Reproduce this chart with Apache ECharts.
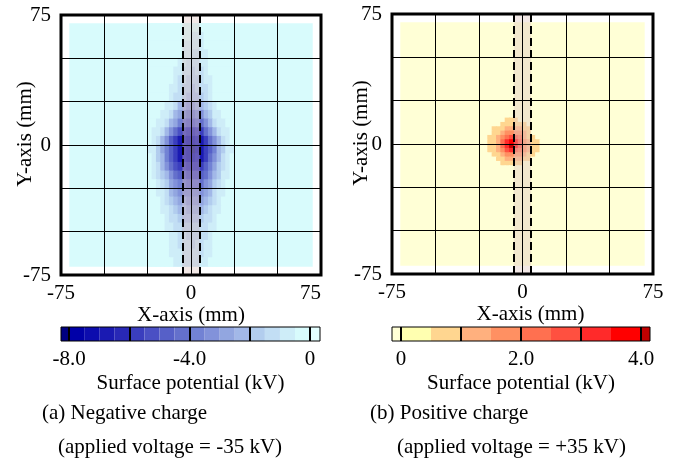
<!DOCTYPE html>
<html>
<head>
<meta charset="utf-8">
<script src="https://cdn.jsdelivr.net/npm/echarts@6/dist/echarts.min.js"></script>
<style>
  html, body { margin: 0; padding: 0; background: #fff; }
  #chart { width: 674px; height: 459px; }
</style>
</head>
<body>
<div id="chart"></div>
<script>
// ---- Measured surface potential maps (kV) on the probe grid (mm) ----

// Scanned area and the electrode strip edges (mm)
const scanRange = [-70, 70];
const electrodeEdges = [-5, 5];

// (a) negative charge: cell centres (mm) and potential (kV)
const negColsX = [-23.75, -21.25, -18.75, -16.25, -13.75, -11.25, -8.75, -6.25, -3.75, -1.25,
                  1.25, 3.75, 6.25, 8.75, 11.25, 13.75, 16.25, 18.75, 21.25, 23.75];
const negRowsY = [67.5, 62.5, 57.5, 52.5, 47.5, 42.5, 37.5, 32.5, 27.5, 22.5, 17.5, 12.5, 7.5, 2.5,
                  -2.5, -7.5, -12.5, -17.5, -22.5, -27.5, -32.5, -37.5, -42.5, -47.5, -52.5, -57.5, -62.5, -67.5];
const negBackground = -0.3;
const negPotential = [
  [-0.3,-0.3,-0.3,-0.3,-0.3,-0.3,-0.3,-0.3,-0.3,-0.3,-0.3,-0.3,-0.3,-0.3,-0.3,-0.3,-0.3,-0.3,-0.3,-0.3],
  [-0.3,-0.3,-0.3,-0.3,-0.3,-0.3,-0.3,-0.3,-0.3,-0.3,-0.6,-0.7,-0.6,-0.3,-0.3,-0.3,-0.3,-0.3,-0.3,-0.3],
  [-0.3,-0.3,-0.3,-0.3,-0.3,-0.3,-0.3,-0.3,-0.55,-0.75,-0.9,-0.9,-0.75,-0.5,-0.3,-0.3,-0.3,-0.3,-0.3,-0.3],
  [-0.3,-0.3,-0.3,-0.3,-0.3,-0.3,-0.3,-0.5,-0.75,-1.0,-1.1,-1.05,-0.85,-0.55,-0.3,-0.3,-0.3,-0.3,-0.3,-0.3],
  [-0.3,-0.3,-0.3,-0.3,-0.3,-0.3,-0.5,-0.7,-0.95,-1.2,-1.3,-1.2,-0.95,-0.65,-0.3,-0.3,-0.3,-0.3,-0.3,-0.3],
  [-0.3,-0.3,-0.3,-0.3,-0.3,-0.3,-0.6,-0.85,-1.15,-1.45,-1.55,-1.4,-1.1,-0.8,-0.5,-0.3,-0.3,-0.3,-0.3,-0.3],
  [-0.3,-0.3,-0.3,-0.3,-0.3,-0.5,-0.75,-1.05,-1.4,-1.7,-1.8,-1.65,-1.3,-0.95,-0.6,-0.3,-0.3,-0.3,-0.3,-0.3],
  [-0.3,-0.3,-0.3,-0.3,-0.3,-0.6,-0.9,-1.25,-1.65,-2.0,-2.1,-1.9,-1.5,-1.1,-0.7,-0.3,-0.3,-0.3,-0.3,-0.3],
  [-0.3,-0.3,-0.3,-0.3,-0.3,-0.7,-1.05,-1.45,-1.95,-2.4,-2.5,-2.25,-1.8,-1.3,-0.85,-0.5,-0.3,-0.3,-0.3,-0.3],
  [-0.3,-0.3,-0.3,-0.3,-0.6,-1.0,-1.5,-2.1,-2.7,-3.2,-3.3,-3.0,-2.5,-1.9,-1.2,-0.6,-0.3,-0.3,-0.3,-0.3],
  [-0.3,-0.3,-0.3,-0.6,-0.9,-1.4,-2.1,-2.9,-3.6,-4.2,-4.3,-3.9,-3.2,-2.4,-1.6,-0.95,-0.55,-0.3,-0.3,-0.3],
  [-0.3,-0.3,-0.6,-0.9,-1.4,-2.1,-3.0,-3.9,-4.8,-5.4,-5.5,-5.0,-4.2,-3.2,-2.3,-1.5,-0.9,-0.55,-0.3,-0.3],
  [-0.3,-0.6,-0.95,-1.5,-2.3,-3.3,-4.4,-5.4,-6.3,-6.9,-7.0,-6.5,-5.6,-4.5,-3.4,-2.4,-1.5,-0.95,-0.6,-0.3],
  [-0.5,-0.9,-1.5,-2.4,-3.5,-4.6,-5.7,-6.6,-7.3,-7.8,-7.9,-7.4,-6.6,-5.6,-4.5,-3.4,-2.3,-1.45,-0.85,-0.5],
  [-0.55,-1.0,-1.7,-2.7,-3.8,-4.9,-6.0,-6.9,-7.5,-8.0,-8.2,-7.7,-6.9,-5.9,-4.8,-3.6,-2.5,-1.6,-0.95,-0.55],
  [-0.5,-0.9,-1.55,-2.5,-3.6,-4.7,-5.8,-6.7,-7.3,-7.7,-7.8,-7.4,-6.6,-5.6,-4.5,-3.4,-2.35,-1.5,-0.9,-0.5],
  [-0.3,-0.75,-1.3,-2.1,-3.1,-4.1,-5.1,-5.9,-6.5,-6.9,-7.0,-6.6,-5.9,-5.0,-4.0,-3.0,-2.0,-1.25,-0.75,-0.3],
  [-0.3,-0.6,-1.05,-1.7,-2.5,-3.4,-4.3,-5.0,-5.5,-5.8,-5.9,-5.6,-5.0,-4.2,-3.3,-2.4,-1.6,-1.0,-0.6,-0.3],
  [-0.3,-0.3,-0.8,-1.3,-2.0,-2.7,-3.4,-4.0,-4.5,-4.8,-4.9,-4.6,-4.1,-3.4,-2.7,-1.9,-1.25,-0.8,-0.3,-0.3],
  [-0.3,-0.3,-0.65,-1.0,-1.5,-2.1,-2.7,-3.2,-3.6,-3.9,-4.0,-3.7,-3.3,-2.7,-2.1,-1.5,-1.0,-0.65,-0.3,-0.3],
  [-0.3,-0.3,-0.5,-0.8,-1.2,-1.7,-2.2,-2.6,-3.0,-3.2,-3.3,-3.1,-2.7,-2.2,-1.7,-1.2,-0.8,-0.5,-0.3,-0.3],
  [-0.3,-0.3,-0.3,-0.65,-0.95,-1.35,-1.8,-2.2,-2.5,-2.7,-2.8,-2.6,-2.25,-1.85,-1.4,-0.95,-0.6,-0.3,-0.3,-0.3],
  [-0.3,-0.3,-0.3,-0.5,-0.8,-1.1,-1.45,-1.8,-2.1,-2.3,-2.35,-2.2,-1.9,-1.5,-1.15,-0.8,-0.5,-0.3,-0.3,-0.3],
  [-0.3,-0.3,-0.3,-0.3,-0.6,-0.85,-1.1,-1.4,-1.7,-1.9,-1.95,-1.8,-1.5,-1.2,-0.9,-0.6,-0.3,-0.3,-0.3,-0.3],
  [-0.3,-0.3,-0.3,-0.3,-0.3,-0.75,-1.0,-1.25,-1.5,-1.7,-1.75,-1.6,-1.35,-1.05,-0.8,-0.5,-0.3,-0.3,-0.3,-0.3],
  [-0.3,-0.3,-0.3,-0.3,-0.3,-0.65,-0.9,-1.1,-1.35,-1.5,-1.55,-1.45,-1.2,-0.95,-0.7,-0.3,-0.3,-0.3,-0.3,-0.3],
  [-0.3,-0.3,-0.3,-0.3,-0.3,-0.55,-0.8,-1.0,-1.2,-1.35,-1.4,-1.3,-1.1,-0.85,-0.6,-0.3,-0.3,-0.3,-0.3,-0.3],
  [-0.3,-0.3,-0.3,-0.3,-0.3,-0.5,-0.7,-0.9,-1.05,-1.2,-1.25,-1.15,-0.95,-0.75,-0.5,-0.3,-0.3,-0.3,-0.3,-0.3]
];

// (b) positive charge: cell centres (mm) and potential (kV)
const posColsX = [-21.25, -18.75, -16.25, -13.75, -11.25, -8.75, -6.25, -3.75, -1.25, 1.25, 3.75, 6.25, 8.75, 11.25];
const posRowsY = [13.75, 11.25, 8.75, 6.25, 3.75, 1.25, -1.25, -3.75, -6.25, -8.75, -11.25, -13.75];
const posBackground = -0.1;
const posPotential = [
  [-0.1,-0.1,-0.1,-0.1,-0.1,0.5,0.55,0.5,-0.1,-0.1,-0.1,-0.1,-0.1,-0.1],
  [-0.1,-0.1,-0.1,-0.1,0.55,0.7,0.8,0.75,0.6,0.5,-0.1,-0.1,-0.1,-0.1],
  [-0.1,-0.1,0.5,0.7,0.95,1.15,1.25,1.25,1.05,0.8,0.5,-0.1,-0.1,-0.1],
  [-0.1,-0.1,0.6,0.95,1.35,1.7,1.95,1.9,1.6,1.2,0.7,-0.1,-0.1,-0.1],
  [-0.1,0.5,0.75,1.25,1.8,2.4,2.85,2.75,2.1,1.45,0.95,0.55,-0.1,-0.1],
  [-0.1,0.55,0.85,1.45,2.2,3.1,3.85,3.6,2.6,1.75,1.1,0.7,0.5,-0.1],
  [-0.1,0.55,0.85,1.45,2.25,3.2,4.15,3.7,2.65,1.8,1.1,0.7,0.5,-0.1],
  [-0.1,0.5,0.75,1.2,1.8,2.5,3.0,2.9,2.2,1.5,1.0,0.65,0.5,-0.1],
  [-0.1,-0.1,0.6,0.9,1.3,1.7,1.95,1.9,1.6,1.2,0.8,0.5,-0.1,-0.1],
  [-0.1,-0.1,-0.1,0.65,0.95,1.2,1.35,1.3,1.1,0.8,0.5,-0.1,-0.1,-0.1],
  [-0.1,-0.1,-0.1,-0.1,0.55,0.7,0.8,0.75,0.6,-0.1,-0.1,-0.1,-0.1,-0.1],
  [-0.1,-0.1,-0.1,-0.1,-0.1,-0.1,-0.1,-0.1,-0.1,-0.1,-0.1,-0.1,-0.1,-0.1]
];

// Contour levels (kV) and colour-scale ticks
const negLevels = [-8, -7.5, -7, -6.5, -6, -5.5, -5, -4.5, -4, -3.5, -3, -2.5, -2, -1.5, -1, -0.5, 0];
const posLevels = [0, 0.5, 1, 1.5, 2, 2.5, 3, 3.5, 4];
const negScaleTicks = [-8, -6, -4, -2, 0];
const negScaleLabels = [-8, -4, 0];
const posScaleTicks = [0, 1, 2, 3, 4];
const posScaleLabels = [0, 2, 4];
const mapTickLabels = [-75, 0, 75];

// ---- Styles ----
const negLevelColors = ['#000080', '#0000a8', '#0c0cae', '#1a1ab2', '#2828b6', '#3a3ebe', '#4a50c4', '#5660c8',
  '#6470cc', '#7282d4', '#8292da', '#92a6e0', '#a2b8e8', '#b2cdee', '#c2def4', '#ceedf8', '#d8fbfc', '#e4ffff'];
const posLevelColors = ['#ffffd6', '#ffffb0', '#ffd690', '#ffb07e', '#ff9062', '#ff7050', '#ff5040', '#ff2a2a',
  '#ff0000', '#c00000'];
const FONT = "'Liberation Serif', 'Times New Roman', serif";
const TXT = { fontFamily: FONT, fontSize: 21, color: '#000' };

// ---- Helpers ----
function mapCells(xs, ys, grid, background) {
  const hx = Math.abs(xs[1] - xs[0]) / 2;
  const hy = Math.abs(ys[1] - ys[0]) / 2;
  const out = [[scanRange[0], scanRange[1], scanRange[0], scanRange[1], background]];
  ys.forEach((y, i) => xs.forEach((x, j) => out.push([x - hx, x + hx, y - hy, y + hy, grid[i][j]])));
  return out;
}
function piecesOf(levels, colors) {
  const p = [{ lt: levels[0], color: colors[0] }];
  for (let i = 0; i < levels.length - 1; i++) p.push({ gte: levels[i], lt: levels[i + 1], color: colors[i + 1] });
  p.push({ gte: levels[levels.length - 1], color: colors[levels.length] });
  return p;
}
function scaleBands(levels, lo, hi) {
  const edges = [lo].concat(levels, [hi]);
  return edges.slice(0, -1).map((e, i) => [e, edges[i + 1], i]);
}
function renderCell(params, api) {
  const a = api.coord([api.value(0), api.value(3)]);
  const b = api.coord([api.value(1), api.value(2)]);
  return {
    type: 'rect',
    shape: { x: a[0] - 0.4, y: a[1] - 0.4, width: b[0] - a[0] + 0.8, height: b[1] - a[1] + 0.8 },
    style: { fill: api.visual('color') }
  };
}
function bandRenderer(colors) {
  return function (params, api) {
    const a = api.coord([api.value(0), 1]);
    const b = api.coord([api.value(1), 0]);
    return {
      type: 'rect',
      shape: { x: a[0], y: a[1], width: b[0] - a[0], height: b[1] - a[1] },
      style: { fill: colors[api.value(2)] }
    };
  };
}
const mapLabel = v => (mapTickLabels.indexOf(v) >= 0 ? String(v) : '');
const scaleLabel = v => (v === 0 ? '0' : v.toFixed(1));

function mapXAxis(gi, namePad, alignMax) {
  return {
    type: 'value', gridIndex: gi, min: -75, max: 75, interval: 25, z: 10,
    axisLine: { show: false }, axisTick: { show: false },
    splitLine: { show: true, lineStyle: { color: '#000', width: 1 } },
    axisLabel: Object.assign({ formatter: mapLabel, margin: 8, alignMaxLabel: alignMax }, TXT),
    name: 'X-axis (mm)', nameLocation: 'middle', nameGap: 30, nameMoveOverlap: false,
    nameTextStyle: Object.assign({ padding: namePad }, TXT)
  };
}
function mapYAxis(gi, gap) {
  return {
    type: 'value', gridIndex: gi, min: -75, max: 75, interval: 25, z: 10,
    axisLine: { show: false }, axisTick: { show: false },
    splitLine: { show: true, lineStyle: { color: '#000', width: 1 } },
    axisLabel: Object.assign({ formatter: mapLabel, margin: 10 }, TXT),
    name: 'Y-axis (mm)', nameLocation: 'middle', nameGap: gap, nameMoveOverlap: false,
    nameTextStyle: Object.assign({ padding: [0, 0, 0, 22] }, TXT)
  };
}
function scaleXAxis(gi, lo, hi, labels) {
  return {
    type: 'value', gridIndex: gi, min: lo, max: hi,
    axisLine: { show: false }, axisTick: { show: false }, splitLine: { show: false },
    axisLabel: Object.assign({ customValues: labels, formatter: scaleLabel, margin: 8 }, TXT),
    name: 'Surface potential (kV)', nameLocation: 'middle', nameGap: 32, nameMoveOverlap: false,
    nameTextStyle: TXT
  };
}
const stripMarks = {
  markArea: {
    silent: true, z: 4,
    itemStyle: { color: 'rgba(225,200,195,0.42)' },
    data: [[{ xAxis: electrodeEdges[0] }, { xAxis: electrodeEdges[1] }]]
  },
  markLine: {
    silent: true, z: 6, symbol: ['none', 'none'], animation: false,
    label: { show: false },
    lineStyle: { color: '#000', width: 2, type: [8, 4] },
    data: electrodeEdges.map(v => ({ xAxis: v }))
  }
};
function tickMarks(ticks) {
  return {
    silent: true, z: 6, symbol: ['none', 'none'], animation: false,
    label: { show: false },
    lineStyle: { color: '#000', width: 2, type: 'solid' },
    data: ticks.map(v => ({ xAxis: v }))
  };
}
const negScale = [-8.27, 0.33];
const posScale = [-0.15, 4.15];

const chart = echarts.init(document.getElementById('chart'), null, { renderer: 'canvas' });
chart.setOption({
  animation: false,
  backgroundColor: '#fff',
  textStyle: { fontFamily: FONT },
  grid: [
    { left: 61, top: 15, width: 260, height: 260, show: true, borderColor: '#000', borderWidth: 3,
      backgroundColor: 'transparent', z: 10, outerBoundsMode: 'none' },
    { left: 392, top: 14, width: 261, height: 260, show: true, borderColor: '#000', borderWidth: 3,
      backgroundColor: 'transparent', z: 10, outerBoundsMode: 'none' },
    { left: 61, top: 327, width: 259, height: 14, show: true, borderColor: '#000', borderWidth: 1,
      backgroundColor: 'transparent', z: 10, outerBoundsMode: 'none' },
    { left: 392, top: 327, width: 258, height: 14, show: true, borderColor: '#000', borderWidth: 1,
      backgroundColor: 'transparent', z: 10, outerBoundsMode: 'none' }
  ],
  xAxis: [
    mapXAxis(0, [0, 0, 0, 0], 'right'),
    mapXAxis(1, [0, 0, 0, 16], 'center'),
    scaleXAxis(2, negScale[0], negScale[1], negScaleLabels),
    scaleXAxis(3, posScale[0], posScale[1], posScaleLabels)
  ],
  yAxis: [
    mapYAxis(0, 25),
    mapYAxis(1, 20),
    { type: 'value', gridIndex: 2, min: 0, max: 1, show: false },
    { type: 'value', gridIndex: 3, min: 0, max: 1, show: false }
  ],
  visualMap: [
    { type: 'piecewise', show: false, seriesIndex: 0, dimension: 4, pieces: piecesOf(negLevels, negLevelColors) },
    { type: 'piecewise', show: false, seriesIndex: 1, dimension: 4, pieces: piecesOf(posLevels, posLevelColors) }
  ],
  series: [
    Object.assign({
      type: 'custom', name: 'Negative charge', xAxisIndex: 0, yAxisIndex: 0, z: 2, clip: true,
      renderItem: renderCell, encode: { x: [0, 1], y: [2, 3] },
      data: mapCells(negColsX, negRowsY, negPotential, negBackground)
    }, stripMarks),
    Object.assign({
      type: 'custom', name: 'Positive charge', xAxisIndex: 1, yAxisIndex: 1, z: 2, clip: true,
      renderItem: renderCell, encode: { x: [0, 1], y: [2, 3] },
      data: mapCells(posColsX, posRowsY, posPotential, posBackground)
    }, stripMarks),
    {
      type: 'custom', xAxisIndex: 2, yAxisIndex: 2, z: 2,
      renderItem: bandRenderer(negLevelColors), encode: { x: [0, 1] },
      data: scaleBands(negLevels, negScale[0], negScale[1]),
      markLine: tickMarks(negScaleTicks)
    },
    {
      type: 'custom', xAxisIndex: 3, yAxisIndex: 3, z: 2,
      renderItem: bandRenderer(posLevelColors), encode: { x: [0, 1] },
      data: scaleBands(posLevels, posScale[0], posScale[1]),
      markLine: tickMarks(posScaleTicks)
    }
  ],
  graphic: [
    { type: 'text', x: 42, y: 413, style: { text: '(a) Negative charge', font: '21px ' + FONT, fill: '#000', verticalAlign: 'middle' } },
    { type: 'text', x: 58, y: 447, style: { text: '(applied voltage = -35 kV)', font: '21px ' + FONT, fill: '#000', verticalAlign: 'middle' } },
    { type: 'text', x: 370, y: 413, style: { text: '(b) Positive charge', font: '21px ' + FONT, fill: '#000', verticalAlign: 'middle' } },
    { type: 'text', x: 397, y: 447, style: { text: '(applied voltage = +35 kV)', font: '21px ' + FONT, fill: '#000', verticalAlign: 'middle' } }
  ]
});
</script>
</body>
</html>
